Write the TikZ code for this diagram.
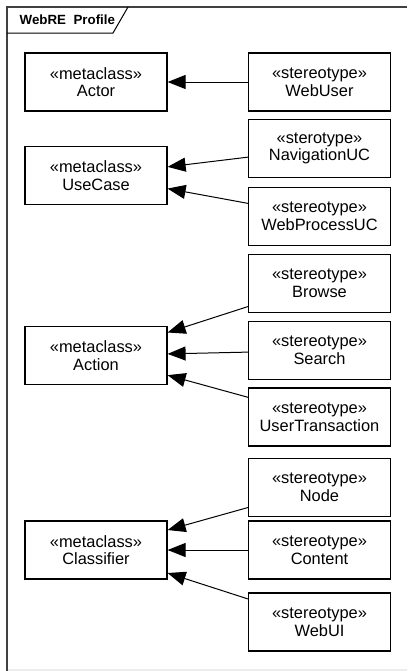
\documentclass[tikz,border=0pt]{standalone}
\usepackage{fontspec}
\setmainfont{Liberation Sans}
\usetikzlibrary{arrows.meta}

\begin{document}
\begin{tikzpicture}[x=0.75pt,y=-0.75pt,
    classbox/.style={draw,line width=0.9pt,minimum width=106.5pt,minimum height=43.5pt,
        inner sep=0pt,align=center,font={\fontsize{12.3}{13.2}\selectfont}},
    extends/.style={line width=0.75pt,-{Triangle[length=13.5pt,width=10.5pt]}}]
        \useasboundingbox (0,0) rectangle (407,671);

        % frame and tab
        \draw[gray!15,line width=1pt] (8,670) -- (407,670);
        \draw[black!75,line width=1.5pt] (7,671) -- (7,7) -- (407,7);
        \draw[line width=0.75pt] (7,33) -- (113,33) -- (128,7);
        \node[anchor=west,font={\fontsize{10}{12}\selectfont\bfseries}] (title) at (15,20) {WebRE\ \ Profile};

        % metaclasses
        \node[classbox] (actor) at (96,82) {«metaclass»\\Actor};
        \node[classbox] (usecase) at (96,175.5) {«metaclass»\\UseCase};
        \node[classbox] (action) at (96,355.5) {«metaclass»\\Action};
        \node[classbox] (classifier) at (96,550) {«metaclass»\\Classifier};

        % stereotypes
        \node[classbox] (webuser) at (319.5,82) {«stereotype»\\WebUser};
        \node[classbox] (navuc) at (319.5,148.5) {«sterotype»\\NavigationUC};
        \node[classbox] (procuc) at (319.5,216.5) {«stereotype»\\WebProcessUC};
        \node[classbox] (browse) at (319.5,283.5) {«stereotype»\\Browse};
        \node[classbox] (search) at (319.5,350.5) {«stereotype»\\Search};
        \node[classbox] (usertrans) at (319.5,417) {«stereotype»\\UserTransaction};
        \node[classbox] (nodest) at (319.5,487.5) {«stereotype»\\Node};
        \node[classbox] (content) at (319.5,550) {«stereotype»\\Content};
        \node[classbox] (webui) at (319.5,622) {«stereotype»\\WebUI};

        \draw[extends] (webuser) -- (actor);
        \draw[extends] (navuc) -- (usecase);
        \draw[extends] (procuc) -- (usecase);
        \draw[extends] (browse) -- (action);
        \draw[extends] (search) -- (action);
        \draw[extends] (usertrans) -- (action);
        \draw[extends] (nodest) -- (classifier);
        \draw[extends] (content) -- (classifier);
        \draw[extends] (webui) -- (classifier);
    \end{tikzpicture}
\end{document}
